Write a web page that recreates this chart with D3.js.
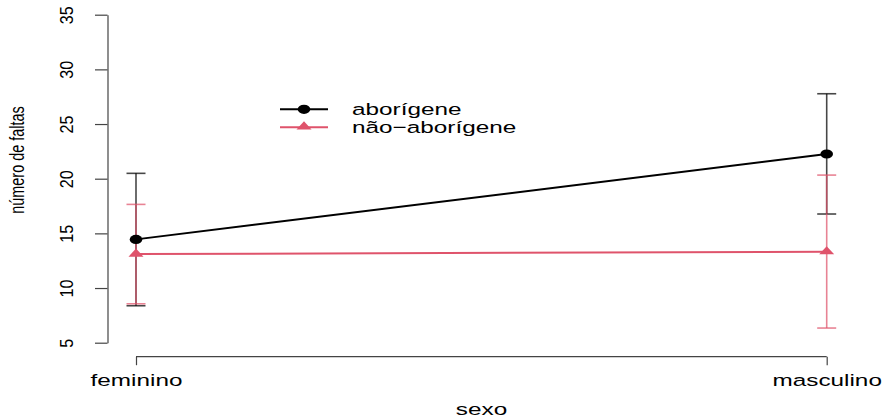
<!DOCTYPE html>
<html><head><meta charset="utf-8">
<script src="https://cdn.jsdelivr.net/npm/d3@7"></script>
<style>body{margin:0;background:#fff}svg{display:block}text{font-family:"Liberation Sans",Arial,sans-serif;fill:#000}</style>
</head><body>
<script>
const categories = ["feminino", "masculino"];
const seriesNames = ["aborígene", "não-aborígene"];
const legendLabels = ["aborígene", "não\u2212aborígene"];
const means = [[14.45, 22.26], [13.11, 13.32]];
const lower = [[8.38, 16.77], [8.56, 6.34]];
const upper = [[20.49, 27.77], [17.65, 20.33]];
const yTicks = [5, 10, 15, 20, 25, 30, 35];
const xTitle = "sexo";
const yTitle = "número de faltas";

const W = 887, H = 417;
const lineColors = ["#000000", "#DF536B"];
const barColors = ["rgba(0,0,0,0.72)", "rgba(223,83,107,0.72)"];

const svg = d3.select("body").append("svg").attr("width", W).attr("height", H);
const x = d3.scalePoint().domain(categories).range([136, 826.7]);
const y = d3.scaleLinear().domain([5, 35]).range([342.7, 14.7]);

// y axis
const gy = svg.append("g").attr("transform", "translate(107.5,0)")
  .call(d3.axisLeft(y).tickValues(yTicks).tickSize(12.5).tickSizeOuter(0));
gy.selectAll("path,line").attr("stroke", "#444").attr("stroke-width", 1.2);
gy.selectAll("text").attr("x", null).attr("dy", null).attr("text-anchor", "middle")
  .attr("font-size", 16.5).attr("font-family", null)
  .attr("transform", d => `translate(${73 - 107.5},${y(d) - y(d)}) rotate(-90) scale(0.98,1.06)`)
  .attr("y", 0);
// reposition rotated tick labels
gy.selectAll(".tick text").attr("transform", function(){ return `translate(-34.5,0) rotate(-90) scale(0.98,1.06)`; });

// x axis
const gx = svg.append("g").attr("transform", "translate(0,356.7)")
  .call(d3.axisBottom(x).tickSize(8.5).tickSizeOuter(0));
gx.select(".domain").attr("d", `M${x(categories[0])},0H${x(categories[1])}`);
gx.selectAll("path,line").attr("stroke", "#444").attr("stroke-width", 1.2);
gx.selectAll(".tick text").attr("y", null).attr("dy", null).attr("font-family", null)
  .attr("font-size", 17).attr("transform", "translate(0,29.5) scale(1.43,1)");

// axis titles
svg.append("text").attr("text-anchor", "middle").attr("font-size", 17)
  .attr("transform", "translate(481.5,415) scale(1.43,1)").text(xTitle);
svg.append("text").attr("text-anchor", "middle").attr("font-size", 17)
  .attr("transform", "translate(24,160) rotate(-90) scale(0.85,1.22)").text(yTitle);

// lines
const line = d3.line().x((d, i) => x(categories[i])).y(d => y(d));
seriesNames.forEach((s, k) => {
  svg.append("path").attr("d", line(means[k])).attr("fill", "none")
    .attr("stroke", lineColors[k]).attr("stroke-width", 2);
});

// error bars
seriesNames.forEach((s, k) => {
  const g = svg.append("g").attr("stroke", barColors[k]).attr("stroke-width", 1.6);
  categories.forEach((c, i) => {
    const cx = x(c);
    g.append("line").attr("x1", cx).attr("x2", cx).attr("y1", y(lower[k][i])).attr("y2", y(upper[k][i]));
    g.append("line").attr("x1", cx - 9.5).attr("x2", cx + 9.5).attr("y1", y(lower[k][i])).attr("y2", y(lower[k][i]));
    g.append("line").attr("x1", cx - 9.5).attr("x2", cx + 9.5).attr("y1", y(upper[k][i])).attr("y2", y(upper[k][i]));
  });
});

// markers
function circle(g, cx, cy) {
  g.append("ellipse").attr("cx", cx).attr("cy", cy).attr("rx", 6.3).attr("ry", 4.6).attr("fill", lineColors[0]);
}
function tri(g, cx, cy) {
  g.append("path").attr("d", `M${cx},${cy - 5.5}L${cx + 7.5},${cy + 2.6}L${cx - 7.5},${cy + 2.6}Z`).attr("fill", lineColors[1]);
}
const mk = svg.append("g");
categories.forEach((c, i) => {
  circle(mk, x(c), y(means[0][i]));
  tri(mk, x(c), y(means[1][i]));
});

// legend
const ly = [109.3, 127.3];
legendLabels.forEach((lab, k) => {
  svg.append("line").attr("x1", 280).attr("x2", 328).attr("y1", ly[k]).attr("y2", ly[k])
    .attr("stroke", lineColors[k]).attr("stroke-width", 2);
  if (k === 0) circle(svg, 304, ly[k]); else tri(svg, 304, ly[k] - 0.5);
  svg.append("text").attr("font-size", 17).attr("transform", `translate(352,${ly[k] + 5.5}) scale(1.43,1)`).text(lab);
});
</script>
</body></html>
